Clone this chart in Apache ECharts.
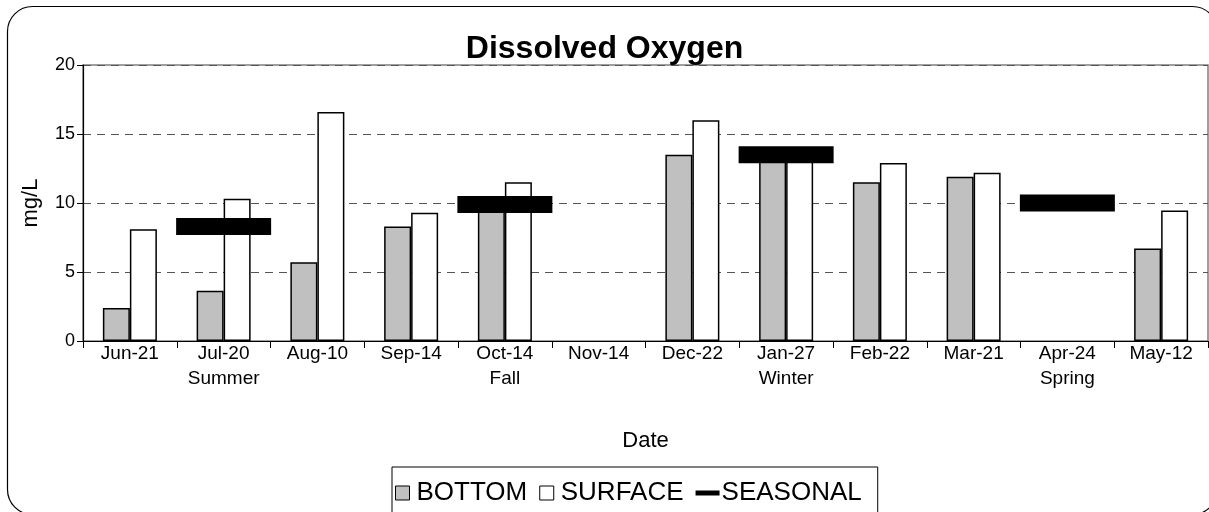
<!DOCTYPE html>
<html>
<head>
<meta charset="utf-8">
<script src="https://cdn.jsdelivr.net/npm/echarts@6/dist/echarts.min.js"></script>
<style>
html,body{margin:0;padding:0;background:#fff;}
#chart{width:1209px;height:512px;}
</style>
</head>
<body>
<div id="chart"></div>
<script>
const categories = ['Jun-21','Jul-20','Aug-10','Sep-14','Oct-14','Nov-14','Dec-22','Jan-27','Feb-22','Mar-21','Apr-24','May-12'];
const seasons = ['', 'Summer', '', '', 'Fall', '', '', 'Winter', '', '', 'Spring', ''];
const bottom = [2.4, 3.65, 5.7, 8.3, 10.0, '-', 13.5, 13.3, 11.5, 11.9, '-', 6.7];
const surface = [8.1, 10.3, 16.6, 9.3, 11.5, '-', 16.0, 13.3, 12.9, 12.2, '-', 9.45];
const seasonal = ['-', 8.3, '-', '-', 9.9, '-', '-', 13.5, '-', '-', 10.0, '-'];
const yTicks = [0, 5, 10, 15, 20];

const FONT = '"Liberation Sans", Arial, sans-serif';
const chart = echarts.init(document.getElementById('chart'), null, {renderer: 'canvas'});
chart.setOption({
  animation: false,
  backgroundColor: '#fff',
  textStyle: {fontFamily: FONT, color: '#000'},
  title: {
    text: 'Dissolved Oxygen',
    left: 'center',
    top: 28,
    textStyle: {fontFamily: FONT, fontSize: 32, fontWeight: 'bold', color: '#000'}
  },
  graphic: [{
    type: 'rect',
    shape: {x: 7.5, y: 6.5, width: 1210, height: 508, r: 25},
    style: {fill: 'none', stroke: '#000', lineWidth: 1.2},
    z: -1, silent: true
  }],
  legend: {
    left: 392,
    top: 467,
    padding: [13, 16, 20, 3],
    itemGap: 12,
    itemWidth: 24,
    itemHeight: 14,
    symbolKeepAspect: true,
    borderColor: '#000',
    borderWidth: 1,
    textStyle: {fontFamily: FONT, fontSize: 26, color: '#000', padding: [0, 0, 0, -3]},
    data: [
      {name: 'BOTTOM', icon: 'path://M0,0H10V10H0Z', itemStyle: {color: '#c0c0c0', borderColor: '#000', borderWidth: 1}},
      {name: 'SURFACE', icon: 'path://M0,0H10V10H0Z', itemStyle: {color: '#fff', borderColor: '#000', borderWidth: 1}},
      {name: 'SEASONAL', icon: 'path://M0,0H24V5H0Z', itemStyle: {color: '#000', borderWidth: 0}}
    ]
  },
  grid: {
    left: 83, right: 1, top: 65, bottom: 171,
    show: true, borderColor: '#808080', borderWidth: 1.5, backgroundColor: '#fff'
  },
  xAxis: {
    type: 'category',
    data: categories,
    name: 'Date',
    nameLocation: 'middle',
    nameGap: 89,
    nameTextStyle: {fontFamily: FONT, fontSize: 22, color: '#000'},
    axisLine: {lineStyle: {color: '#000', width: 1.2}},
    axisTick: {show: true, length: 7, lineStyle: {color: '#000'}},
    axisLabel: {
      fontFamily: FONT, fontSize: 19, color: '#000', margin: 0, lineHeight: 25,
      interval: 0,
      formatter: (v, i) => seasons[i] ? v + '\n' + seasons[i] : v
    },
    splitLine: {show: false}
  },
  yAxis: {
    type: 'value',
    min: yTicks[0], max: yTicks[yTicks.length - 1], interval: 5,
    name: 'mg/L',
    nameLocation: 'middle',
    nameRotate: 90,
    nameGap: 41,
    nameTextStyle: {fontFamily: FONT, fontSize: 22, color: '#000'},
    axisLine: {show: true, lineStyle: {color: '#000', width: 1.2}},
    axisTick: {show: true, length: 6, lineStyle: {color: '#000'}},
    axisLabel: {fontFamily: FONT, fontSize: 18, color: '#000', margin: 8},
    splitLine: {show: true, lineStyle: {color: '#555', type: [8, 6], width: 1}}
  },
  series: [
    {
      name: 'BOTTOM', type: 'bar', data: bottom,
      barWidth: 27, barGap: '0%',
      itemStyle: {color: '#c0c0c0', borderColor: '#000', borderWidth: 1.5},
      z: 2
    },
    {
      name: 'SURFACE', type: 'bar', data: surface,
      barWidth: 27, barGap: '0%',
      itemStyle: {color: '#fff', borderColor: '#000', borderWidth: 1.5},
      z: 2
    },
    {
      name: 'SEASONAL', type: 'scatter', data: seasonal,
      symbol: 'rect', symbolSize: [95, 17],
      itemStyle: {color: '#000', opacity: 1},
      z: 5
    }
  ]
});
</script>
</body>
</html>
